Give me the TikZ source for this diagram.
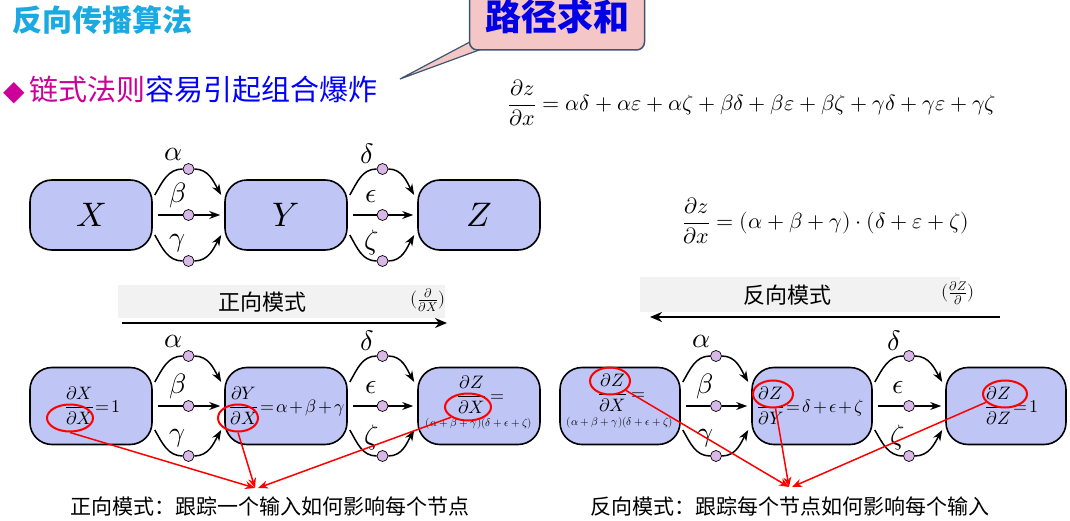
\documentclass[tikz,border=0pt]{standalone}
\usepackage{amsmath}
\usepackage{fontspec}
\usepackage{unicode-math}
\setmathfont{Latin Modern Math}
\newfontfamily\cjk{Noto Sans CJK SC}
\usetikzlibrary{calc,arrows.meta,shapes.geometric}
\definecolor{boxblue}{HTML}{BFC5F5}
\definecolor{dotc}{HTML}{D9B8E8}
\definecolor{titlec}{HTML}{1AAAE2}
\definecolor{mag}{HTML}{CC0099}
\definecolor{calloutf}{HTML}{F5C6C6}
\definecolor{callouted}{HTML}{3E5670}
\newcommand\tightmath{\medmuskip=2mu\relax\thickmuskip=2mu\relax}
\tikzset{
 box/.style={draw,line width=1.6pt,fill=boxblue,rounded corners=22pt,minimum width=122pt,minimum height=#1},
 box/.default=70pt,
 dot/.style={circle,draw,line width=0.7pt,fill=dotc,inner sep=0pt,minimum size=11pt},
 lnk/.style={line width=1.5pt},
 arr/.style={line width=1.5pt,-{Stealth[length=11pt,width=8pt]}},
 glabel/.style={font=\fontsize{28}{28}\selectfont,inner sep=0pt},
 red ell/.style={ellipse,draw=red,line width=2pt,minimum width=#1,minimum height=27pt,inner sep=0pt},
 red arr/.style={red,line width=1.5pt,-{Stealth[length=10pt,width=8pt]}},
 bm/.style={font=\fontsize{18}{18}\selectfont,inner sep=0pt}
}
\newcommand\lnks[4]{%
 \coordinate (#3m) at ($(#1.east)!0.5!(#2.west)$);
 \node[dot] (#3t) at ($(#3m)+(0,#4+6)$) {};
 \node[dot] (#3c) at (#3m) {};
 \node[dot] (#3b) at ($(#3m)+(0,-#4-6)$) {};
 \draw[lnk] ($(#1.east)+(2,#4-20)$) to[out=60,in=180] (#3t);
 \draw[arr] (#3t) to[out=0,in=120] ($(#2.west)+(-3,#4-20)$);
 \draw[lnk] ($(#1.east)+(5,0)$) -- (#3c);
 \draw[arr] (#3c) -- ($(#2.west)+(-4,0)$);
 \draw[lnk] ($(#1.east)+(2,-#4+20)$) to[out=-60,in=180] (#3b);
 \draw[arr] (#3b) to[out=0,in=-120] ($(#2.west)+(-3,-#4+20)$);
}
\newcommand\glabs[1]{%
 \node[glabel] at ($(#1t)+(-15,15)$) {$\alpha$};
 \node[glabel] at ($(#1c)+(-11,20)$) {$\beta$};
 \node[glabel] at ($(#1b)+(-11,18)$) {$\gamma$};}
\newcommand\glabsb[1]{%
 \node[glabel] at ($(#1t)+(-15,15)$) {$\delta$};
 \node[glabel] at ($(#1c)+(-11,18)$) {$\epsilon$};
 \node[glabel] at ($(#1b)+(-11,18)$) {$\zeta$};}
\begin{document}
\begin{tikzpicture}[x=1pt,y=1pt]
\useasboundingbox (0,0) rectangle (1070,520);
\node[anchor=west,text=titlec,font=\cjk\bfseries\fontsize{30}{30}\selectfont,inner sep=0pt] (title) at (12,500) {反向传播算法};
\fill[calloutf,draw=callouted,line width=1.2pt] (483,485) -- (400,441) -- (520,485) -- cycle;
\node[draw=callouted,line width=1.5pt,fill=calloutf,rounded corners=8pt,minimum width=175pt,minimum height=66pt] (callout) at (557,503) {};
\node[text=blue!90!black,font=\cjk\bfseries\fontsize{36}{36}\selectfont] (ctext) at (557,503) {路径求和};
\node[anchor=west,font=\cjk\fontsize{29}{29}\selectfont,inner sep=0pt] (bullet) at (3,430) {\textcolor{mag}{\fontspec{DejaVu Sans}\fontsize{28}{28}\selectfont ◆}\,\textcolor{mag}{链式法则}\textcolor{blue}{容易引起组合爆炸}};
\node[font=\fontsize{22}{22}\selectfont] (eq1) at (752,417) {$\dfrac{\partial z}{\partial x}=\alpha\delta+\alpha\varepsilon+\alpha\zeta+\beta\delta+\beta\varepsilon+\beta\zeta+\gamma\delta+\gamma\varepsilon+\gamma\zeta$};
\node[font=\fontsize{22}{22}\selectfont] (eq2) at (826,299) {$\dfrac{\partial z}{\partial x}=(\alpha+\beta+\gamma)\cdot(\delta+\varepsilon+\zeta)$};
\node[box] (X) at (91,305) {\fontsize{34}{34}\selectfont$X$};
\node[box] (Y) at (286,305) {\fontsize{34}{34}\selectfont$Y$};
\node[box] (Z) at (479,305) {\fontsize{34}{34}\selectfont$Z$};
\lnks{X}{Y}{a}{40}
\lnks{Y}{Z}{b}{40}
\glabs{a}\glabsb{b}
\fill[gray!10] (118,202) rectangle (445,235);
\node[font=\cjk\fontsize{22}{22}\selectfont] (fwd) at (262,218) {正向模式};
\node[font=\fontsize{18}{18}\selectfont,inner sep=0pt] (fwdl) at (428,220) {$(\frac{\partial}{\partial X})$};
\coordinate (fa1) at (122,197); \coordinate (fa2) at (447,197);
\draw[line width=2.5pt,-{Stealth[length=12pt,width=10pt]}] (fa1) -- (fa2);
\fill[gray!10] (640,208) rectangle (960,243);
\node[font=\cjk\fontsize{22}{22}\selectfont] (bwd) at (787,225) {反向模式};
\node[font=\fontsize{18}{18}\selectfont,inner sep=0pt] (bwdl) at (958,227) {$(\frac{\partial Z}{\partial})$};
\coordinate (ba1) at (1000,203); \coordinate (ba2) at (650,203);
\draw[line width=2.5pt,-{Stealth[length=12pt,width=10pt]}] (ba1) -- (ba2);
% bottom-left
\node[box=77pt] (X2) at (91,114) {};
\node[box=77pt] (Y2) at (286,114) {};
\node[box=77pt] (Z2) at (479,114) {};
\lnks{X2}{Y2}{c}{44}
\lnks{Y2}{Z2}{d}{44}
\glabs{c}\glabsb{d}
\node[bm] (tx2) at (93,114) {$\tightmath\dfrac{\partial X}{\partial X}=1$};
\node[bm,anchor=west] (ty2) at (229,114) {$\tightmath\dfrac{\partial Y}{\partial X}=\alpha+\beta+\gamma$};
\node[bm] (tz2) at (481,125) {$\dfrac{\partial Z}{\partial X}=$};
\node[font=\fontsize{11}{11}\selectfont,inner sep=0pt] (tz2b) at (479,96) {$(\alpha+\beta+\gamma)(\delta+\epsilon+\zeta)$};
% bottom-right
\node[box=77pt,minimum width=120pt] (X3) at (620,114) {};
\node[box=77pt,minimum width=120pt] (Y3) at (812,114) {};
\node[box=77pt,minimum width=120pt] (Z3) at (1006,114) {};
\lnks{X3}{Y3}{e}{44}
\lnks{Y3}{Z3}{f}{44}
\glabs{e}\glabsb{f}
\node[bm] (tx3) at (622,127) {$\dfrac{\partial Z}{\partial X}=$};
\node[font=\fontsize{11}{11}\selectfont,inner sep=0pt] (tx3b) at (620,97) {$(\alpha+\beta+\gamma)(\delta+\epsilon+\zeta)$};
\node[bm,anchor=west] (ty3) at (757,114) {$\tightmath\dfrac{\partial Z}{\partial Y}=\delta+\epsilon+\zeta$};
\node[bm] (tz3) at (1012,114) {$\tightmath\dfrac{\partial Z}{\partial Z}=1$};
% red ellipses
\node[red ell=46pt] (e1) at (70,102) {};
\node[red ell=40pt] (e2) at (238,102) {};
\node[red ell=46pt] (e3) at (468,113) {};
\node[red ell=40pt] (e4) at (610,139) {};
\node[red ell=40pt] (e5) at (773,126) {};
\node[red ell=44pt] (e6) at (1005,126) {};
\coordinate (tl) at (255,32);
\coordinate (tr) at (789,33);
\draw[red arr] (e1.south) -- (tl);
\draw[red arr] (e2.south) -- (tl);
\draw[red arr] (e3.south west) -- ($(tl)+(3,0)$);
\draw[red arr] (e4) -- (tr);
\draw[red arr] (e5) -- (tr);
\draw[red arr] (e6) -- ($(tr)+(3,0)$);
\node[font=\cjk\fontsize{21}{21}\selectfont] (capl) at (270,14) {正向模式：跟踪一个输入如何影响每个节点};
\node[font=\cjk\fontsize{21}{21}\selectfont] (capr) at (790,14) {反向模式：跟踪每个节点如何影响每个输入};
\end{tikzpicture}
\end{document}
